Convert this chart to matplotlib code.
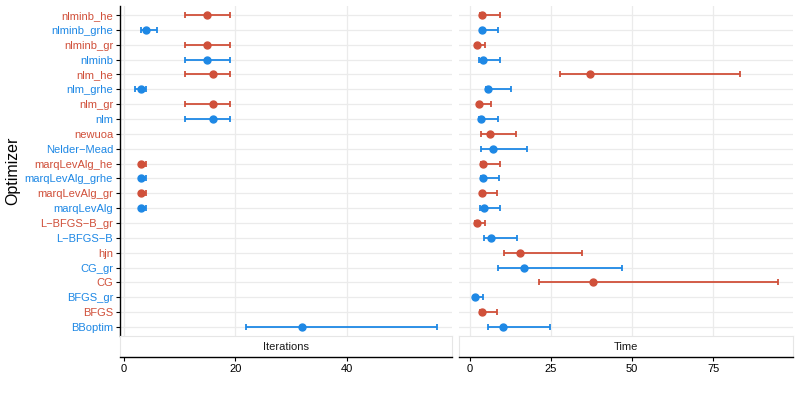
import numpy as np
import matplotlib
matplotlib.use("Agg")
from matplotlib import pyplot as plt

plt.rcParams['font.family'] = ['Liberation Sans', 'DejaVu Sans']

# optimizers, bottom to top
optimizers = ['BBoptim', 'BFGS', 'BFGS_gr', 'CG', 'CG_gr', 'hjn', 'L\u2212BFGS\u2212B',
              'L\u2212BFGS\u2212B_gr', 'marqLevAlg', 'marqLevAlg_gr', 'marqLevAlg_grhe',
              'marqLevAlg_he', 'Nelder\u2212Mead', 'newuoa', 'nlm', 'nlm_gr', 'nlm_grhe',
              'nlm_he', 'nlminb', 'nlminb_gr', 'nlminb_grhe', 'nlminb_he']

nan = np.nan
# iterations: lower, median, upper
iter_lo = [22, nan, nan, nan, nan, nan, nan, nan, 3, 3, 3, 3, nan, nan, 11, 11, 2, 11, 11, 11, 3, 11]
iter_mid = [32, nan, nan, nan, nan, nan, nan, nan, 3, 3, 3, 3, nan, nan, 16, 16, 3, 16, 15, 15, 4, 15]
iter_hi = [56.3, nan, nan, nan, nan, nan, nan, nan, 4, 4, 4, 4, nan, nan, 19, 19, 4, 19, 19, 19, 6, 19]

# time: lower, median, upper
time_lo = [5.6, 3.3, 1.5, 21.5, 8.9, 10.7, 4.4, 1.8, 3.2, 3.4, 3.6, 3.5, 3.4, 3.4,
           3.0, 2.5, 5.0, 27.7, 3.0, 1.9, 3.4, 3.2]
time_mid = [10.3, 3.8, 1.8, 38.0, 16.8, 15.4, 6.5, 2.2, 4.3, 3.9, 4.2, 4.2, 7.2, 6.2,
            3.6, 2.8, 5.8, 37.1, 4.1, 2.2, 3.9, 3.9]
time_hi = [24.9, 8.3, 4.1, 94.9, 46.9, 34.7, 14.5, 4.8, 9.3, 8.4, 9.0, 9.3, 17.6, 14.2,
           8.7, 6.5, 12.8, 83.2, 9.5, 4.9, 8.8, 9.5]

facets = ['Iterations', 'Time']
x_ticks = [[0, 20, 40], [0, 25, 50, 75]]

BLUE = '#1E88E5'
RED = '#D0503A'
colors = [BLUE if i % 2 == 0 else RED for i in range(len(optimizers))]

fig = plt.figure(figsize=(8, 4), dpi=100)

panel_x = [(0.150, 0.4154), (0.5741, 0.4172)]
panel_bottom, panel_top = 0.160, 0.9848
strip_bottom = 0.1075

data = [(iter_lo, iter_mid, iter_hi), (time_lo, time_mid, time_hi)]
ypos = np.arange(len(optimizers))

for k, (x0, w) in enumerate(panel_x):
    lo, mid, hi = [np.array(a, dtype=float) for a in data[k]]
    ax = fig.add_axes([x0, panel_bottom, w, panel_top - panel_bottom])
    st = fig.add_axes([x0, strip_bottom, w, panel_bottom - strip_bottom], sharex=ax)

    for y in ypos:
        ax.axhline(y, color='#ebebeb', lw=0.9, zorder=0)
    for t in x_ticks[k]:
        ax.axvline(t, color='#ebebeb', lw=0.9, zorder=0)

    for i in ypos:
        if np.isnan(mid[i]):
            continue
        ax.errorbar(mid[i], i, xerr=[[mid[i] - lo[i]], [hi[i] - mid[i]]], fmt='o',
                    color=colors[i], ms=5, elinewidth=1.3, capsize=2.2, capthick=1.3,
                    zorder=3)

    # ggplot style 5% expansion
    dmin, dmax = np.nanmin(lo), np.nanmax(hi)
    pad = 0.05 * (dmax - dmin)
    ax.set_xlim(dmin - pad, dmax + pad)
    ax.set_ylim(-0.6, len(optimizers) - 1 + 0.6)

    for s in ['top', 'right', 'bottom']:
        ax.spines[s].set_visible(False)
    ax.tick_params(axis='x', bottom=False, labelbottom=False)
    if k == 0:
        ax.spines['left'].set_color('black')
        ax.spines['left'].set_linewidth(1.0)
        ax.set_yticks(ypos)
        ax.set_yticklabels(optimizers, fontsize=8)
        for lab, c in zip(ax.get_yticklabels(), colors):
            lab.set_color(c)
        ax.tick_params(axis='y', length=3, width=0.8, pad=2)
        ax.set_ylabel('Optimizer', fontsize=11.5, labelpad=3)
    else:
        ax.spines['left'].set_visible(False)
        ax.set_yticks([])

    # strip below the panel, with the x axis under it
    st.set_facecolor('white')
    for s in ['top', 'left', 'right']:
        st.spines[s].set_color('#e6e6e6')
        st.spines[s].set_linewidth(0.8)
    st.spines['bottom'].set_color('black')
    st.spines['bottom'].set_linewidth(1.0)
    st.set_ylim(0, 1)
    st.set_yticks([])
    st.set_xticks(x_ticks[k])
    st.tick_params(axis='x', length=3, width=0.8, labelsize=8, pad=2, colors='black')
    st.text(0.5, 0.5, facets[k], transform=st.transAxes, ha='center', va='center',
            fontsize=8, color='#1a1a1a')

fig.savefig('out.png', dpi=100)
